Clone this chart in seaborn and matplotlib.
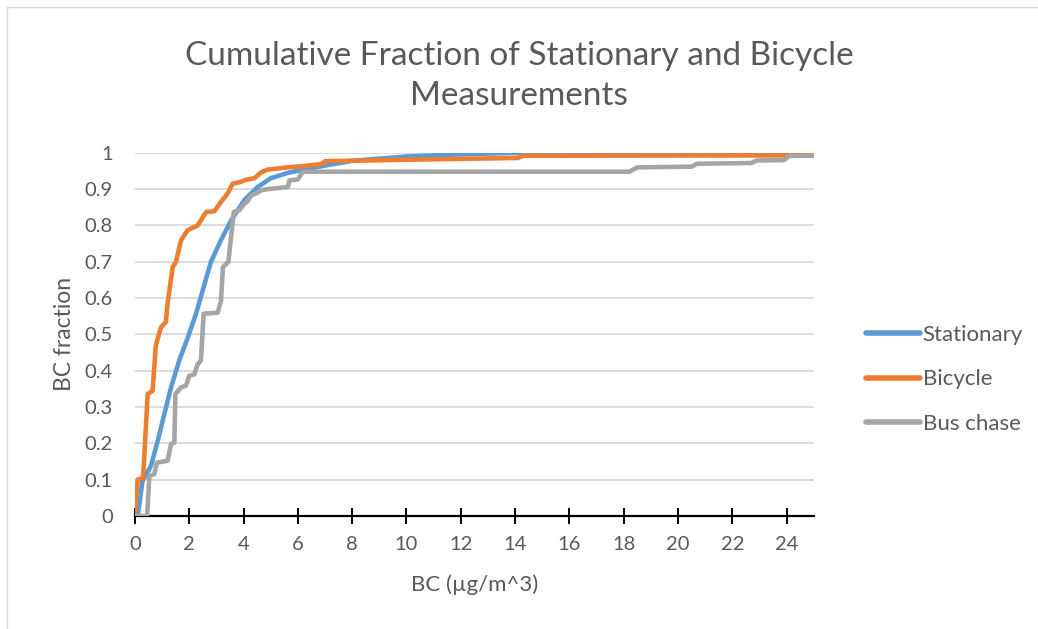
import pandas as pd
import matplotlib.pyplot as plt
import seaborn as sns
from matplotlib.patches import Rectangle

# =========================
# Data
# =========================
stationary_x = [0.1, 0.28, 0.59, 0.84, 1.08, 1.33, 1.63, 1.94, 2.25, 2.49, 2.8, 3.17,
                3.54, 4.03, 4.52, 5.0, 5.63, 6.24, 6.86, 8, 10, 12, 14, 25]
stationary_y = [0, 0.097, 0.138, 0.207, 0.28, 0.354, 0.428, 0.49, 0.557, 0.62, 0.70, 0.76,
                0.814, 0.87, 0.906, 0.93, 0.945, 0.954, 0.963, 0.978, 0.99, 0.996, 1.0, 1.0]

bicycle_x = [0, 0.1, 0.3, 0.47, 0.65, 0.77, 0.96, 1.14, 1.2, 1.39, 1.51, 1.7, 1.94, 2.31,
             2.62, 2.92, 3.17, 3.41, 3.6, 3.9, 4.09, 4.4, 4.64, 4.89, 5.63, 6.12, 6.86,
             7.0, 10, 14.1, 14.3, 24.0, 25]
bicycle_y = [0.01, 0.10, 0.105, 0.336, 0.345, 0.47, 0.52, 0.534, 0.584, 0.685, 0.70, 0.76,
             0.787, 0.80, 0.837, 0.839, 0.865, 0.888, 0.915, 0.92, 0.926, 0.93, 0.946,
             0.954, 0.96, 0.963, 0.969, 0.977, 0.981, 0.986, 0.992, 0.993, 1.0]

bus_x = [0, 0.45, 0.53, 0.71, 0.81, 1.2, 1.33, 1.45, 1.49, 1.7, 1.88, 2.0, 2.19, 2.31,
         2.43, 2.53, 3.05, 3.17, 3.24, 3.44, 3.64, 3.85, 4.03, 4.15, 4.28, 4.46, 4.64,
         4.89, 5.63, 5.69, 6.0, 6.18, 18.2, 18.5, 20.5, 20.7, 22.7, 22.9, 23.9, 24.1, 25]
bus_y = [0.0, 0.0, 0.11, 0.115, 0.147, 0.152, 0.198, 0.202, 0.336, 0.354, 0.359, 0.386,
         0.39, 0.418, 0.428, 0.557, 0.56, 0.593, 0.685, 0.70, 0.837, 0.842, 0.86, 0.867,
         0.883, 0.888, 0.897, 0.90, 0.906, 0.924, 0.927, 0.948, 0.948, 0.96, 0.962, 0.97,
         0.972, 0.979, 0.98, 0.992, 0.992]

series_names = ["Stationary", "Bicycle", "Bus chase"]
colors = {"Stationary": "#5B9BD5", "Bicycle": "#ED7D31", "Bus chase": "#A5A5A5"}
x_ticks = list(range(0, 25, 2))
y_ticks = [0, 0.1, 0.2, 0.3, 0.4, 0.5, 0.6, 0.7, 0.8, 0.9, 1]
y_tick_labels = ["0", "0.1", "0.2", "0.3", "0.4", "0.5", "0.6", "0.7", "0.8", "0.9", "1"]

# long-form table for seaborn
frames = []
for name, xs, ys in zip(series_names,
                        [stationary_x, bicycle_x, bus_x],
                        [stationary_y, bicycle_y, bus_y]):
    frames.append(pd.DataFrame({"x": xs, "y": ys, "series": name}))
df = pd.concat(frames, ignore_index=True)

# =========================
# Plot
# =========================
sns.set_style("white")
plt.rcParams['font.family'] = ['Lato', 'DejaVu Sans']
text_color = "#595959"

fig = plt.figure(figsize=(10.38, 6.29), dpi=100)
ax = fig.add_axes([0.130, 0.1797, 0.654, 0.5773])

sns.lineplot(data=df, x="x", y="y", hue="series", palette=colors, hue_order=series_names,
             estimator=None, sort=False, linewidth=3.3, ax=ax, legend=False)
for line in ax.lines:
    line.set_solid_joinstyle("round")
    line.set_solid_capstyle("round")

ax.set_xlim(0, 25)
ax.set_ylim(0, 1)
ax.set_xticks(x_ticks)
ax.set_yticks(y_ticks)
ax.set_yticklabels(y_tick_labels)
ax.yaxis.grid(True, color="#D9D9D9", linewidth=1.3)
ax.set_axisbelow(True)
for s in ["top", "right", "left"]:
    ax.spines[s].set_visible(False)
ax.spines["bottom"].set_color("black")
ax.spines["bottom"].set_linewidth(1.6)
ax.spines["bottom"].set_zorder(1)

ax.tick_params(axis="x", bottom=True, direction="inout", length=11, width=1.4, color="black",
               labelsize=14.5, labelcolor=text_color, pad=9)
ax.tick_params(axis="y", left=False, length=0, labelsize=14.5, labelcolor=text_color, pad=16)

ax.set_xlabel("BC (µg/m^3)", fontsize=16, color=text_color, labelpad=15)
ax.set_ylabel("BC fraction", fontsize=16.5, color=text_color, labelpad=7)
fig.suptitle("Cumulative Fraction of Stationary and Bicycle\nMeasurements",
             fontsize=24, color=text_color, y=0.935, linespacing=1.42)

handles = [plt.Line2D([], [], color=colors[n], linewidth=4, solid_capstyle="round")
           for n in series_names]
fig.legend(handles, series_names, loc="center left", bbox_to_anchor=(0.815, 0.397),
           frameon=False, fontsize=16, handlelength=2.45, handletextpad=0.1,
           labelspacing=1.1, labelcolor=text_color)

# light chart-area border like the original
fig.patches.append(Rectangle((7 / 1038, -0.1), 1.2, 1.1 - 7 / 629, transform=fig.transFigure,
                             fill=False, edgecolor="#D9D9D9", linewidth=1))

fig.savefig("out.png", dpi=100)
